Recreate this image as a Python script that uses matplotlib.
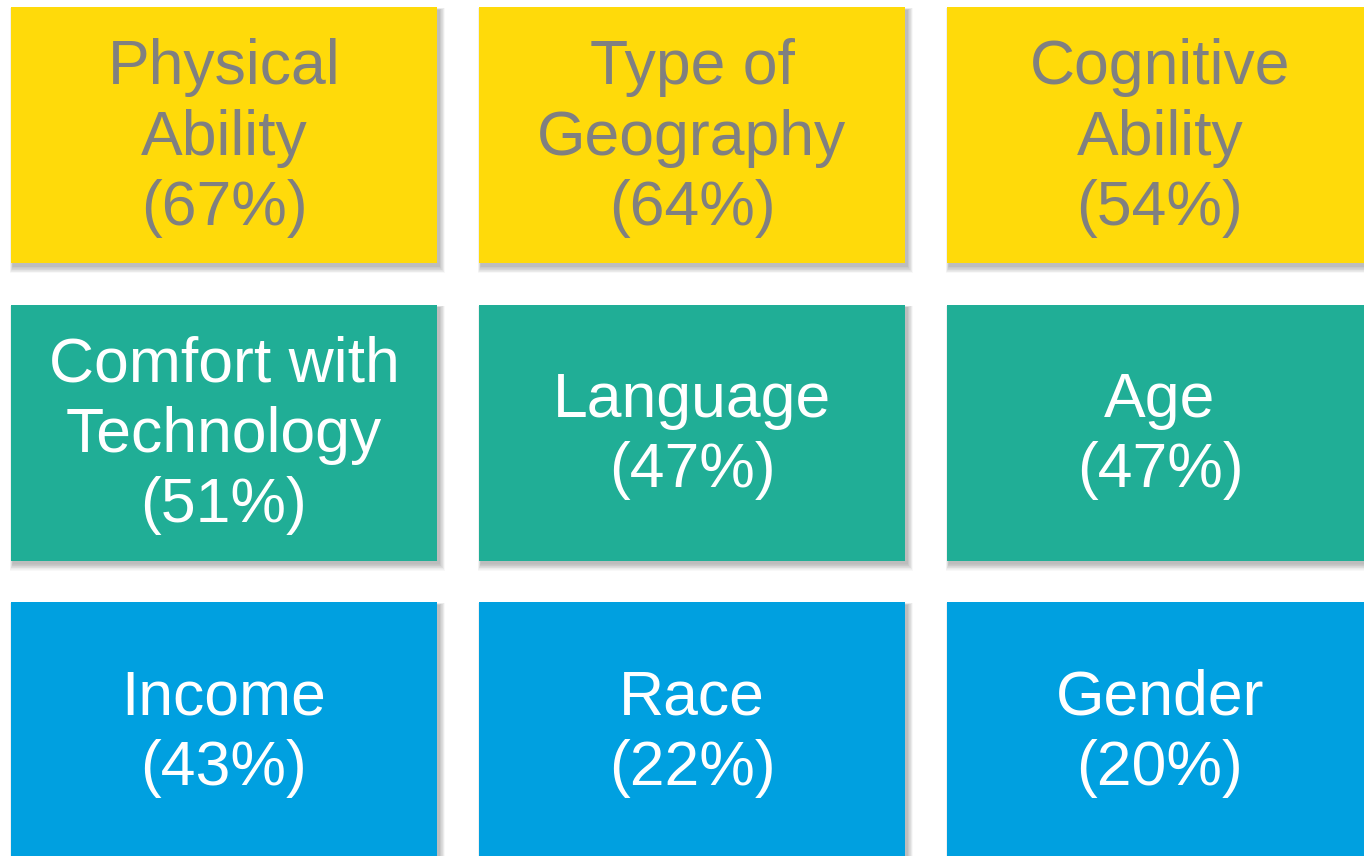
import matplotlib
matplotlib.use("Agg")
import matplotlib.pyplot as plt
from matplotlib.patches import Rectangle

labels = ["Physical\nAbility", "Type of\nGeography", "Cognitive\nAbility",
          "Comfort with\nTechnology", "Language", "Age",
          "Income", "Race", "Gender"]
percents = [67, 64, 54, 51, 47, 47, 43, 22, 20]
row_colors = ["#FFDA0A", "#20AE96", "#00A0E0"]
text_colors = ["#808080", "#FFFFFF", "#FFFFFF"]

W, H = 1364, 856
fig = plt.figure(figsize=(W / 100, H / 100), dpi=100)
ax = fig.add_axes([0, 0, 1, 1])
ax.set_xlim(0, W)
ax.set_ylim(H, 0)
ax.axis("off")

x0, y0 = 11, 7
tw, th = 426, 256
dx, dy = 468, 297.5

for i, (lab, p) in enumerate(zip(labels, percents)):
    r, c = divmod(i, 3)
    x = x0 + c * dx
    y = y0 + r * dy
    # soft shadow
    for k in range(10, 0, -1):
        ax.add_patch(Rectangle((x + 2 - k * 0.3, y + 3 - k * 0.2),
                               tw + k * 0.9, th + k * 0.9,
                               facecolor="black", alpha=0.028, edgecolor="none", zorder=1))
    ax.add_patch(Rectangle((x, y), tw, th, facecolor=row_colors[r],
                           edgecolor="none", zorder=2))
    ax.text(x + tw / 2, y + th / 2 + 3, f"{lab}\n({p}%)", ha="center", va="center",
            color=text_colors[r], fontsize=45, family=["Liberation Sans", "DejaVu Sans"],
            linespacing=1.24, zorder=3)

fig.savefig("out.png", dpi=100)
